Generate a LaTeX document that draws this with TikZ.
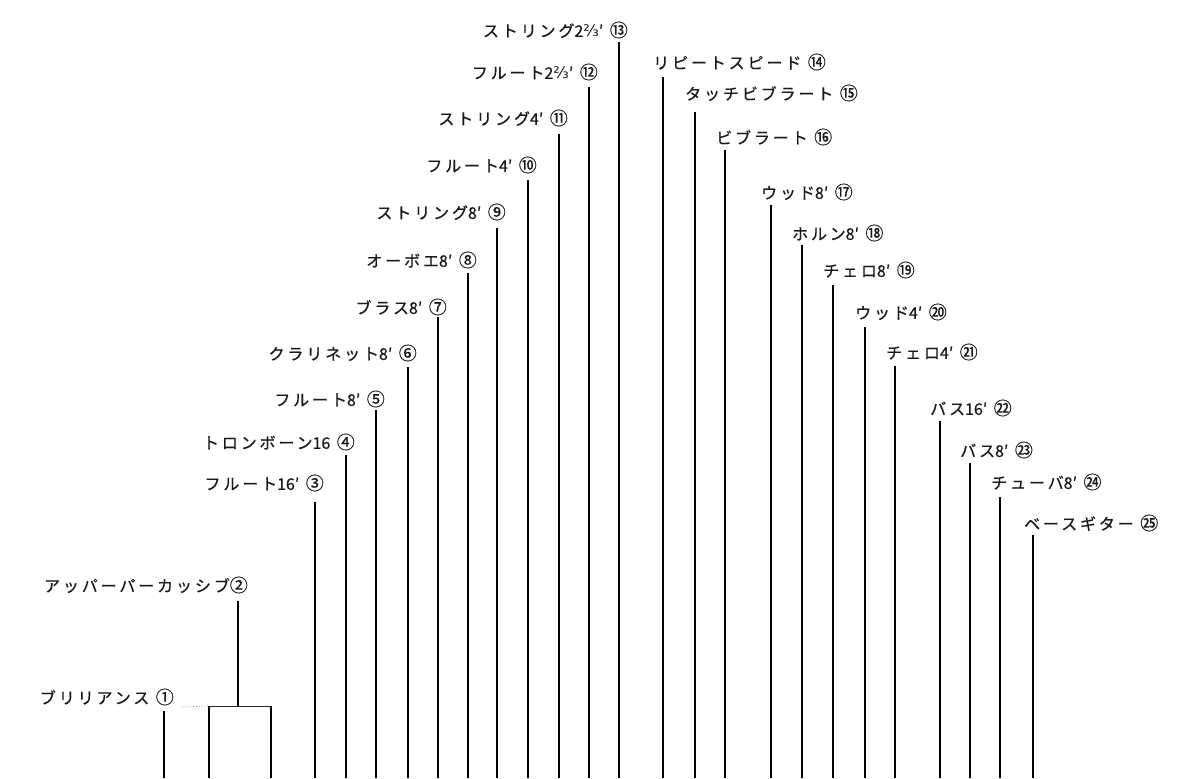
\documentclass[tikz,border=0pt]{standalone}
\usepackage{fontspec}
\newfontfamily\jpfont[LetterSpace=18,FakeBold=0.6]{Noto Sans CJK JP}
\newfontfamily\jpnum[FakeBold=0.6]{Noto Sans CJK JP}
\newfontfamily\fracfont{DejaVu Sans}
\newcommand{\twothirds}{{\fracfont\fontsize{16}{18}\selectfont ⅔}}
\newcommand{\ft}[1]{{\jpnum #1}}
\newcommand{\cn}[1]{{\jpnum\fontsize{18}{18}\selectfont #1}}
\begin{document}
\begin{tikzpicture}[x=1pt,y=-1pt,line cap=butt,line join=round]
\path[fill=white] (0,0) rectangle (1182,778);
\tikzset{wire/.style={draw=black,line width=1.7pt},bar/.style={draw=black!85,line width=1pt},leader/.style={draw=black!45,line width=0.8pt,dotted},lbl/.style={font=\jpfont\fontsize{16}{18}\selectfont,inner sep=1pt,text=black!90},lleft/.style={lbl,anchor=east},lright/.style={lbl,anchor=west}}
% labels, left half
\node[lleft] (l1) at (175,697) {ブリリアンス \cn{①}};
\node[lleft] (l2) at (249,585) {アッパーパーカッシブ\cn{②}};
\node[lleft] (l3) at (325,483) {フルート\ft{16′} \cn{③}};
\node[lleft] (l4) at (356,442) {トロンボーン\ft{16} \cn{④}};
\node[lleft] (l5) at (386,399) {フルート\ft{8′} \cn{⑤}};
\node[lleft] (l6) at (418,353) {クラリネット\ft{8′} \cn{⑥}};
\node[lleft] (l7) at (448,307) {ブラス\ft{8′} \cn{⑦}};
\node[lleft] (l8) at (478,260) {オーボエ\ft{8′} \cn{⑧}};
\node[lleft] (l9) at (507,212) {ストリング\ft{8′} \cn{⑨}};
\node[lleft] (l10) at (538,165) {フルート\ft{4′} \cn{⑩}};
\node[lleft] (l11) at (569,118) {ストリング\ft{4′} \cn{⑪}};
\node[lleft] (l12) at (599,72) {フルート\ft{2\twothirds′} \cn{⑫}};
\node[lleft] (l13) at (629,30) {ストリング\ft{2\twothirds′} \cn{⑬}};
% labels, right half
\node[lright] (l14) at (652,62) {リピートスピード \cn{⑭}};
\node[lright] (l15) at (684,93) {タッチビブラート \cn{⑮}};
\node[lright] (l16) at (715,137) {ビブラート \cn{⑯}};
\node[lright] (l17) at (760,192) {ウッド\ft{8′} \cn{⑰}};
\node[lright] (l18) at (791,233) {ホルン\ft{8′} \cn{⑱}};
\node[lright] (l19) at (822,270) {チェロ\ft{8′} \cn{⑲}};
\node[lright] (l20) at (854,312) {ウッド\ft{4′} \cn{⑳}};
\node[lright] (l21) at (885,352) {チェロ\ft{4′} \cn{㉑}};
\node[lright] (l22) at (929,408) {バス\ft{16′} \cn{㉒}};
\node[lright] (l23) at (959,450) {バス\ft{8′} \cn{㉓}};
\node[lright] (l24) at (990,482) {チューバ\ft{8′} \cn{㉔}};
\node[lright] (l25) at (1023,523) {ベースギター \cn{㉕}};
% brilliance and the percussive bracket
\coordinate (t1) at (164,711); \coordinate (b1) at (164,778); \draw[wire] (t1) -- (b1);
\coordinate (k1) at (209,706); \coordinate (k2) at (271,706); \coordinate (k0) at (238,706); \coordinate (t2) at (238,601);
\coordinate (b2a) at (209,778); \coordinate (b2b) at (271,778); \coordinate (d1) at (182,707);
\draw[wire] (t2) -- (k0);
\draw[bar] (k1) -- (k2);
\draw[leader] (d1) -- (k1);
\draw[wire] (k1) -- (b2a);
\draw[wire] (k2) -- (b2b);
% stop lines
\coordinate (t3) at (315,502); \coordinate (b3) at (315,778); \draw[wire] (t3) -- (b3);
\coordinate (t4) at (346,455); \coordinate (b4) at (346,778); \draw[wire] (t4) -- (b4);
\coordinate (t5) at (376,410); \coordinate (b5) at (376,778); \draw[wire] (t5) -- (b5);
\coordinate (t6) at (408,367); \coordinate (b6) at (408,778); \draw[wire] (t6) -- (b6);
\coordinate (t7) at (438,317); \coordinate (b7) at (438,778); \draw[wire] (t7) -- (b7);
\coordinate (t8) at (468,273); \coordinate (b8) at (468,778); \draw[wire] (t8) -- (b8);
\coordinate (t9) at (497,228); \coordinate (b9) at (497,778); \draw[wire] (t9) -- (b9);
\coordinate (t10) at (528,180); \coordinate (b10) at (528,778); \draw[wire] (t10) -- (b10);
\coordinate (t11) at (559,134); \coordinate (b11) at (559,778); \draw[wire] (t11) -- (b11);
\coordinate (t12) at (589,87); \coordinate (b12) at (589,778); \draw[wire] (t12) -- (b12);
\coordinate (t13) at (619,42); \coordinate (b13) at (619,778); \draw[wire] (t13) -- (b13);
\coordinate (t14) at (663,77); \coordinate (b14) at (663,778); \draw[wire] (t14) -- (b14);
\coordinate (t15) at (695,112); \coordinate (b15) at (695,778); \draw[wire] (t15) -- (b15);
\coordinate (t16) at (725,150); \coordinate (b16) at (725,778); \draw[wire] (t16) -- (b16);
\coordinate (t17) at (771,205); \coordinate (b17) at (771,778); \draw[wire] (t17) -- (b17);
\coordinate (t18) at (802,245); \coordinate (b18) at (802,778); \draw[wire] (t18) -- (b18);
\coordinate (t19) at (833,285); \coordinate (b19) at (833,778); \draw[wire] (t19) -- (b19);
\coordinate (t20) at (865,327); \coordinate (b20) at (865,778); \draw[wire] (t20) -- (b20);
\coordinate (t21) at (895,366); \coordinate (b21) at (895,778); \draw[wire] (t21) -- (b21);
\coordinate (t22) at (940,421); \coordinate (b22) at (940,778); \draw[wire] (t22) -- (b22);
\coordinate (t23) at (970,463); \coordinate (b23) at (970,778); \draw[wire] (t23) -- (b23);
\coordinate (t24) at (1000,497); \coordinate (b24) at (1000,778); \draw[wire] (t24) -- (b24);
\coordinate (t25) at (1033,535); \coordinate (b25) at (1033,778); \draw[wire] (t25) -- (b25);
\end{tikzpicture}
\end{document}
